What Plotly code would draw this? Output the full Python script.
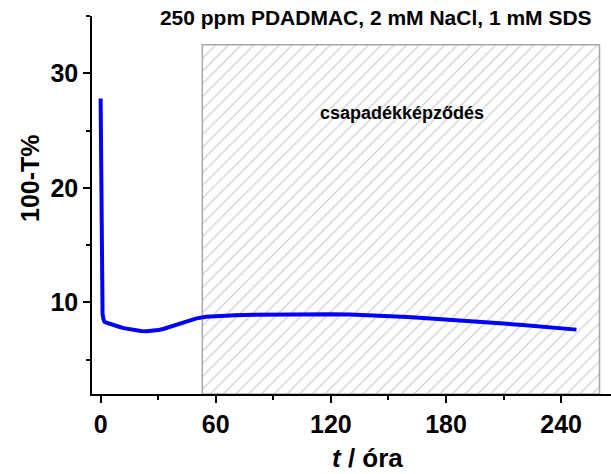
import plotly.graph_objects as go

# data
t_hours = [0, 0.15, 0.3, 0.5, 0.8, 1.0, 1.5, 2, 3, 4, 5, 6, 8, 10, 12, 15, 18, 21, 24, 27, 30,
           33, 36, 40, 45, 50, 55, 60, 70, 80, 90, 100, 110, 120, 130, 140, 150, 160, 170,
           180, 190, 200, 210, 220, 230, 240, 248]
y_values = [27.8, 24.0, 19.0, 14.0, 10.5, 9.0, 8.5, 8.3, 8.22, 8.18, 8.12, 8.05, 7.95, 7.85,
            7.75, 7.65, 7.55, 7.5, 7.48, 7.5, 7.58, 7.7, 7.85, 8.05, 8.35, 8.6, 8.75, 8.82,
            8.88, 8.92, 8.95, 8.97, 8.98, 8.97, 8.93, 8.88, 8.8, 8.72, 8.62, 8.52, 8.4,
            8.28, 8.15, 8.02, 7.88, 7.75, 7.62]

region_x = [53, 260]
region_y = [2, 32.5]
region_label = "csapadékképződés"
title_text = "250 ppm PDADMAC, 2 mM NaCl, 1 mM SDS"
x_title = "<b><i>t</i> / óra</b>"
y_title = "<b>100-T%</b>"
x_ticks = [0, 60, 120, 180, 240]
y_ticks = [10, 20, 30]

FONT = "Arial, Liberation Sans, sans-serif"

fig = go.Figure()

# hatched region
fig.add_trace(go.Scatter(
    x=[region_x[0], region_x[1], region_x[1], region_x[0], region_x[0]],
    y=[region_y[0], region_y[0], region_y[1], region_y[1], region_y[0]],
    mode="lines", fill="toself",
    fillcolor="white",
    fillpattern=dict(shape="/", size=9, solidity=0.12, fgcolor="#8a8a8a", bgcolor="white"),
    line=dict(color="#a8a8a8", width=1.5),
    hoverinfo="skip", showlegend=False,
))

fig.add_trace(go.Scatter(
    x=t_hours, y=y_values, mode="lines",
    line=dict(color="#0000ff", width=4),
    showlegend=False,
))

fig.add_annotation(
    x=157, y=26.5, text="<b>" + region_label + "</b>",
    showarrow=False, font=dict(family=FONT, size=18, color="black"),
)

# axis titles as paper annotations
fig.add_annotation(
    xref="paper", yref="paper", x=(367 - 92) / 519, y=(474 - 80 - 458) / 378,
    text=x_title, showarrow=False, font=dict(family=FONT, size=26),
    xanchor="center", yanchor="middle",
)
fig.add_annotation(
    xref="paper", yref="paper", x=(30 - 92) / 519, y=(394 - 178) / 378,
    text=y_title, showarrow=False, font=dict(family=FONT, size=25), textangle=-90,
    xanchor="center", yanchor="middle",
)

fig.update_layout(
    width=611, height=474,
    margin=dict(l=92, r=0, t=16, b=80),
    paper_bgcolor="white", plot_bgcolor="white",
    font=dict(family=FONT, color="black"),
    title=dict(text="<b>" + title_text + "</b>", x=0.615, xanchor="center",
               y=0.962, yanchor="middle", font=dict(family=FONT, size=21)),
)

fig.update_xaxes(
    range=[-4.5, 266], showline=True, linecolor="black", linewidth=1.5,
    mirror=False, showgrid=False, zeroline=False,
    tickmode="array", tickvals=x_ticks, ticktext=["<b>%d</b>" % v for v in x_ticks],
    ticks="outside", ticklen=7, tickwidth=1.5, tickcolor="black",
    tickfont=dict(family=FONT, size=25),
    minor=dict(tickvals=[30, 90, 150, 210], ticks="outside", ticklen=4, tickwidth=1.5,
               tickcolor="black"),
)
fig.update_yaxes(
    range=[2, 35], showline=True, linecolor="black", linewidth=1.5,
    mirror=False, showgrid=False, zeroline=False,
    tickmode="array", tickvals=y_ticks, ticktext=["<b>%d</b>" % v for v in y_ticks],
    ticks="outside", ticklen=7, tickwidth=1.5, tickcolor="black",
    tickfont=dict(family=FONT, size=25),
    minor=dict(tickvals=[5, 15, 25, 35], ticks="outside", ticklen=4, tickwidth=1.5,
               tickcolor="black"),
)

fig.write_html("out.html")
